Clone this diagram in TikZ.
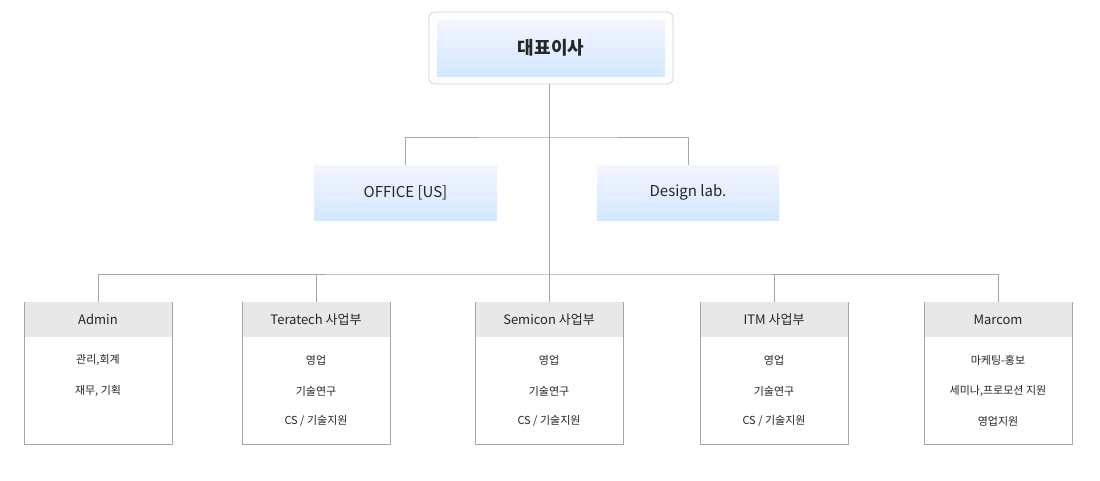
\documentclass[tikz,border=0pt]{standalone}
\usepackage{fontspec}
\setmainfont{Noto Sans CJK KR}
\begin{document}
\begin{tikzpicture}[x=1pt,y=-1pt,
  ln/.style={draw=black!35,line width=0.8pt},
  bluebox/.style={top color=blue!4!white,bottom color=cyan!50!blue!18!white,draw=none,minimum height=55pt,inner sep=0pt,font=\fontsize{15}{18}\selectfont,text=black!85},
  dept/.style={draw=black!35,line width=0.8pt,fill=white,minimum width=148pt,minimum height=142pt,inner sep=0pt},
  hdr/.style={fill=black!9,minimum width=147pt,minimum height=35pt,inner sep=0pt,font=\fontsize{13}{16}\selectfont,text=black!85},
  itm/.style={font=\fontsize{11}{14}\selectfont,text=black!85}]
\useasboundingbox (0,0) rectangle (1100,480);
\fill[white] (0,0) rectangle (1100,480);
% top
\node[draw=black!18,line width=0.8pt,rounded corners=6pt,minimum width=244pt,minimum height=72pt,fill=white] (ceoo) at (551,48) {};
\node[bluebox,minimum width=228pt,minimum height=56pt,font=\fontsize{18}{22}\selectfont\bfseries] (ceo) at (551,48) {대표이사};
\node[bluebox,minimum width=183pt] (us) at (405.5,192.5) {OFFICE [US]};
\node[bluebox,minimum width=182pt] (dl) at (688,192.5) {Design lab.};
\coordinate (j1) at (549,137);
\coordinate (j2) at (549,274);
\draw[ln] (549,84) -- (j2);
\draw[ln] (us.north) |- (j1) -| (dl.north);
% depts
\foreach \n/\x/\t in {a/98/Admin,b/316/Teratech 사업부,c/549/Semicon 사업부,d/774/ITM 사업부,e/998/Marcom}{
  \node[dept] (\n) at (\x,373) {};
  \node[hdr,anchor=north] (\n h) at ([yshift=-0.5pt]\n.north) {\t};
}
\draw[ln] (a.north) |- (j2) -| (e.north);
\foreach \n in {b,c,d} \draw[ln] (\n.north) -- (\n.north |- j2);
\node[itm] (a1) at (98,360) {관리,회계};
\node[itm] (a2) at (98,391) {재무, 기획};
\foreach \n/\x in {b/316,c/549,d/774}{
  \node[itm] (\n1) at (\x,360) {영업};
  \node[itm] (\n2) at (\x,391) {기술연구};
  \node[itm] (\n3) at (\x,421) {CS / 기술지원};
}
\node[itm] (e1) at (998,360) {마케팅-홍보};
\node[itm] (e2) at (998,391) {세미나,프로모션 지원};
\node[itm] (e3) at (998,421) {영업지원};
\end{tikzpicture}
\end{document}
